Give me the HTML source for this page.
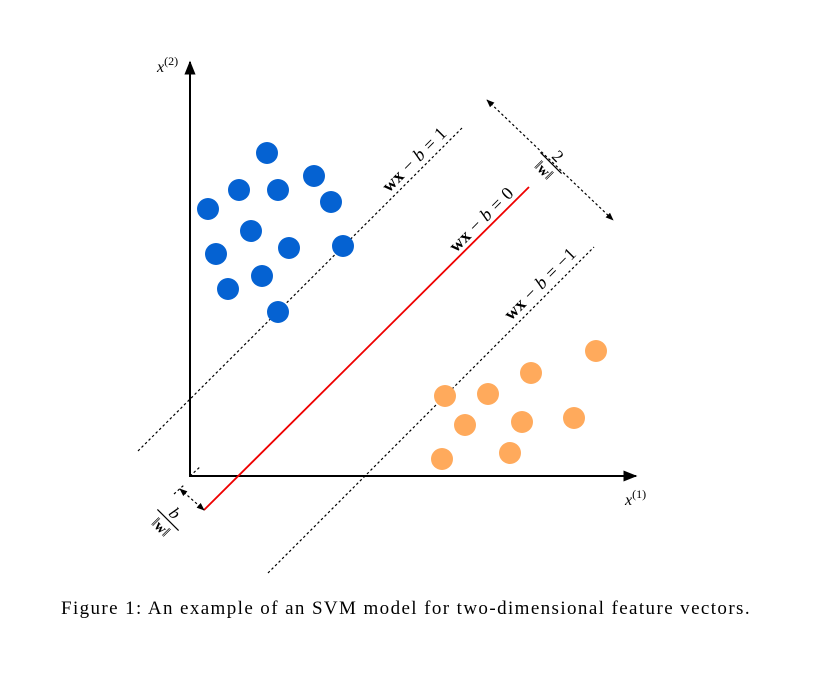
<!DOCTYPE html>
<html><head><meta charset="utf-8"><style>
html,body{margin:0;padding:0;background:#fff;}
svg{display:block;font-family:"Liberation Serif",serif;}
</style></head><body>
<svg id="chart" width="837" height="687" viewBox="0 0 837 687" xmlns="http://www.w3.org/2000/svg">
<defs>
<marker id="ah" viewBox="0 0 10 10" refX="9" refY="5" markerWidth="7" markerHeight="7" orient="auto-start-reverse"><path d="M0,1 L10,5 L0,9 z" fill="#000"/></marker>
<marker id="sa" viewBox="0 0 10 10" refX="9" refY="5" markerWidth="8" markerHeight="8" markerUnits="userSpaceOnUse" orient="auto-start-reverse"><path d="M0,1 L10,5 L0,9 z" fill="#000"/></marker>
</defs>
<line x1="190" y1="477" x2="190" y2="62" stroke="#000" stroke-width="2" marker-end="url(#ah)"/>
<line x1="189" y1="476" x2="636" y2="476" stroke="#000" stroke-width="2" marker-end="url(#ah)"/>
<text x="157" y="72" font-size="16" font-style="italic">x<tspan font-style="normal" font-size="12" dy="-7">(2)</tspan></text>
<text x="625" y="505" font-size="16" font-style="italic">x<tspan font-style="normal" font-size="12" dy="-7">(1)</tspan></text>
<line x1="138" y1="451" x2="463" y2="127" stroke="#000" stroke-width="1.2" stroke-dasharray="2.5,2.5"/>
<line x1="268" y1="573" x2="594" y2="247" stroke="#000" stroke-width="1.2" stroke-dasharray="2.5,2.5"/>
<line x1="204" y1="510" x2="529" y2="187" stroke="#e00" stroke-width="1.8"/>
<line x1="190" y1="476" x2="201" y2="466" stroke="#000" stroke-width="1.2" stroke-dasharray="2.5,2.5"/>
<line x1="487" y1="100" x2="613" y2="220" stroke="#000" stroke-width="1.2" stroke-dasharray="2.5,2.5" marker-start="url(#sa)" marker-end="url(#sa)"/>
<line x1="180" y1="489" x2="204" y2="510" stroke="#000" stroke-width="1.2" stroke-dasharray="2.5,2.5" marker-start="url(#sa)" marker-end="url(#sa)"/>
<line x1="174" y1="494" x2="184" y2="485" stroke="#000" stroke-width="1.2" stroke-dasharray="2.5,2.5"/>
<g font-size="18">
<text transform="translate(389,193) rotate(-45)" letter-spacing="0.5"><tspan font-weight="bold">wx</tspan> − <tspan font-style="italic">b</tspan> = 1</text>
<text transform="translate(456,253) rotate(-45)" letter-spacing="0.5"><tspan font-weight="bold">wx</tspan> − <tspan font-style="italic">b</tspan> = 0</text>
<text transform="translate(511,321) rotate(-45)" letter-spacing="0.5"><tspan font-weight="bold">wx</tspan> − <tspan font-style="italic">b</tspan> = −1</text>
<g transform="translate(551,163) rotate(45)">
<text x="0" y="-4" font-size="17" text-anchor="middle">2</text><line x1="-15" y1="0" x2="15" y2="0" stroke="#000" stroke-width="1.2"/><text x="0" y="15" font-size="15" text-anchor="middle">‖<tspan font-weight="bold">w</tspan>‖</text></g>
<g transform="translate(168,520) rotate(45)">
<text x="0" y="-4" font-size="17" font-style="italic" text-anchor="middle">b</text><line x1="-15" y1="0" x2="15" y2="0" stroke="#000" stroke-width="1.2"/><text x="0" y="15" font-size="15" text-anchor="middle">‖<tspan font-weight="bold">w</tspan>‖</text></g>
</g>
<g id="pts"></g>
<text x="406" y="614" font-size="19" letter-spacing="1.4" text-anchor="middle">Figure 1: An example of an SVM model for two-dimensional feature vectors.</text>
</svg>
<script>
const blueX=[7.7,4.9,8.8,12.4,14.1,1.8,6.1,9.9,15.3,2.6,7.2,3.8,8.8];
const blueY=[32.3,28.6,28.6,30,27.4,26.7,24.5,22.8,23,22.2,20,18.7,16.4];
const orangeX=[40.6,34.1,25.5,29.8,27.5,33.2,38.4,25.2,32];
const orangeY=[12.5,10.3,8,8.2,5.1,5.4,5.8,1.7,2.3];
function sx(v){return 190+v*10;}
function sy(v){return 476-v*10;}
const g=document.getElementById('pts');
function draw(xs,ys,col,name){
 xs.forEach((x,i)=>{
  const c=document.createElementNS('http://www.w3.org/2000/svg','circle');
  c.setAttribute('cx',sx(x));c.setAttribute('cy',sy(ys[i]));c.setAttribute('r',11);c.setAttribute('fill',col);
  
  
  g.appendChild(c);
 });
}
draw(blueX,blueY,'#0562d2','blue-point');
draw(orangeX,orangeY,'#ffaa5c','orange-point');
</script>
</body></html>
